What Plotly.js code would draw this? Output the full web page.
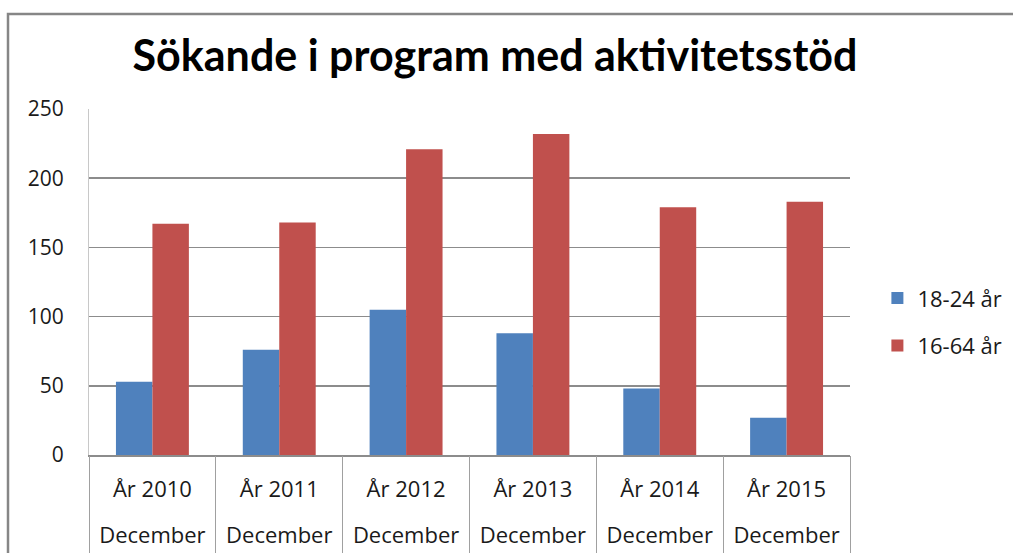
<!DOCTYPE html>
<html>
<head>
<meta charset="utf-8">
<script src="https://cdn.plot.ly/plotly-3.0.1.min.js"></script>
<style>html,body{margin:0;padding:0;background:#fff;}#chart{width:1013px;height:553px;}</style>
</head>
<body>
<div id="chart"></div>
<script>
const years = ["År 2010", "År 2011", "År 2012", "År 2013", "År 2014", "År 2015"];
const months = ["December", "December", "December", "December", "December", "December"];
const series1Name = "18-24 år";
const series1 = [53, 76, 105, 88, 48, 27];
const series2Name = "16-64 år";
const series2 = [167, 168, 221, 232, 179, 183];
const yTicks = [0, 50, 100, 150, 200, 250];

const idx = years.map((_, i) => i);
const bounds = years.map((_, i) => i - 0.5).concat([years.length - 0.5]);
const textFont = "Open Sans, sans-serif";

const data = [
  {type: "bar", name: series1Name, x: years, y: series1, marker: {color: "#4F81BD", line: {width: 0}}, legendgroup: "a"},
  {type: "bar", name: series2Name, x: years, y: series2, marker: {color: "#C0504D", line: {width: 0}}, legendgroup: "b"},
  {type: "scatter", x: idx, y: idx.map(() => null), xaxis: "x2", yaxis: "y", showlegend: false, hoverinfo: "skip", mode: "markers"},
  {type: "scatter", x: idx, y: idx.map(() => null), xaxis: "x3", yaxis: "y", showlegend: false, hoverinfo: "skip", mode: "markers"}
];

const layout = {
  width: 1013, height: 553,
  margin: {l: 89, r: 163, t: 109, b: 98, autoexpand: false},
  paper_bgcolor: "#fff", plot_bgcolor: "#fff",
  barmode: "group", bargap: 0.425, bargroupgap: 0,
  title: {text: "<b>Sökande i program med aktivitetsstöd</b>", font: {family: "Lato, sans-serif", size: 43, color: "#000"},
          x: 495 / 1013, xanchor: "center", y: 1 - 56 / 553, yanchor: "middle"},
  xaxis: {type: "category", categoryorder: "array", categoryarray: years, range: [-0.5, years.length - 0.5],
          showgrid: false, ticks: "", showline: true, linecolor: "#8c8c8c", linewidth: 1.5,
          tickfont: {family: textFont, size: 22, color: "#1a1a1a"}, ticklabelstandoff: 14, fixedrange: true},
  xaxis2: {overlaying: "x", anchor: "y", type: "linear", range: [-0.5, years.length - 0.5],
           tickmode: "array", tickvals: bounds, ticks: "outside", ticklen: 98, tickcolor: "#a0a0a0", tickwidth: 1,
           showticklabels: false, showgrid: false, zeroline: false, showline: false},
  xaxis3: {overlaying: "x", anchor: "y", type: "linear", range: [-0.5, years.length - 0.5],
           tickmode: "array", tickvals: idx, ticktext: months, ticks: "", showgrid: false, zeroline: false, showline: false,
           tickfont: {family: textFont, size: 22, color: "#1a1a1a"}, ticklabelstandoff: 65},
  yaxis: {range: [0, 250], tickmode: "array", tickvals: yTicks, showgrid: true, gridcolor: "#8c8c8c", gridwidth: 1.5,
          zeroline: false, showline: true, linecolor: "#c8c8c8", linewidth: 1, ticks: "",
          tickfont: {family: textFont, size: 21, color: "#1a1a1a"}, ticklabelstandoff: 20, fixedrange: true},
  legend: {x: 1.036, xanchor: "left", y: 0.384, yanchor: "middle", font: {family: textFont, size: 22, color: "#1a1a1a"},
           tracegroupgap: 16, bgcolor: "rgba(0,0,0,0)"},
  shapes: [{type: "rect", xref: "paper", yref: "paper", x0: (8 - 89) / 761, x1: 1.4, y0: -0.6, y1: (455 - 14) / 346,
            line: {color: "#868686", width: 2.5}, fillcolor: "rgba(0,0,0,0)", layer: "below"}],
  showlegend: true
};

Plotly.newPlot("chart", data, layout, {displayModeBar: false, staticPlot: true});
</script>
</body>
</html>
